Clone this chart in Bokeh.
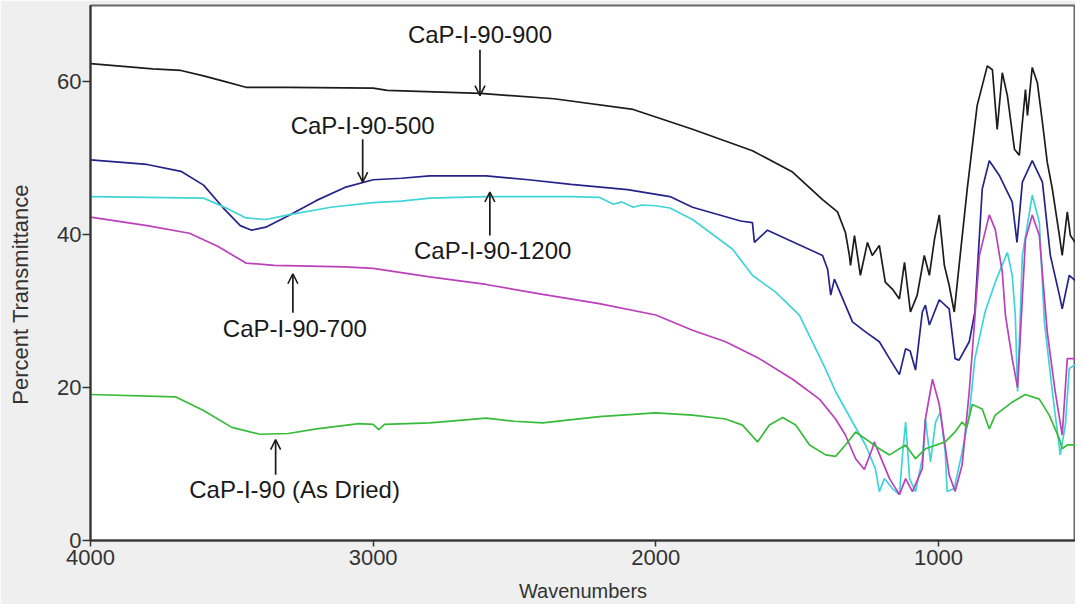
from bokeh.plotting import figure
from bokeh.models import Arrow, OpenHead, Label, Range1d, FixedTicker
from bokeh.embed import file_html
from bokeh.resources import INLINE

# ---- data (wavenumber, % transmittance) ----
wn_900 = [4000, 3780, 3680, 3600, 3520, 3450, 3300, 3000, 2950, 2620, 2360, 2080, 1870, 1658, 1516, 1410, 1357, 1329, 1315, 1311,
          1297, 1276, 1251, 1234, 1209, 1188, 1163, 1138, 1120, 1099, 1075, 1050, 1032, 1014, 997, 979, 962, 944, 923, 898,
          863, 827, 809, 792, 774, 756, 731, 714, 692, 685, 668, 650, 632, 615, 597, 572, 562, 544, 533, 516]
t_900 = [62.4, 61.7, 61.5, 60.8, 60.0, 59.3, 59.3, 59.2, 58.9, 58.5, 57.8, 56.4, 53.8, 51.0, 48.2, 44.6, 43.0, 40.3, 37.3, 36.0,
         39.9, 34.7, 39.0, 37.3, 38.6, 33.8, 32.9, 31.6, 36.4, 29.9, 32.1, 37.3, 34.7, 39.4, 42.6, 36.0, 33.4, 29.9, 37.3, 46.0,
         56.9, 62.1, 61.6, 53.8, 61.2, 58.2, 51.2, 50.4, 59.0, 55.6, 61.9, 59.9, 54.7, 49.5, 46.0, 39.9, 37.3, 43.0, 39.9, 39.0]

wn_500 = [4000, 3800, 3680, 3600, 3530, 3470, 3430, 3380, 3300, 3200, 3100, 3000, 2900, 2800, 2600, 2450, 2300, 2100, 1950, 1870,
          1700, 1658, 1651, 1605, 1410, 1392, 1381, 1368, 1304, 1258, 1209, 1173, 1138, 1116, 1100, 1081, 1057, 1046, 1032,
          997, 962, 941, 927, 891, 871, 845, 820, 785, 739, 722, 703, 668, 632, 604, 572, 562, 537, 516]
t_500 = [49.8, 49.2, 48.3, 46.5, 43.5, 41.2, 40.6, 41.0, 42.5, 44.5, 46.2, 47.2, 47.4, 47.7, 47.7, 47.2, 46.6, 45.9, 45.0, 43.6,
         41.8, 41.6, 39.0, 40.6, 37.3, 35.5, 32.1, 34.2, 28.6, 27.3, 26.0, 23.8, 21.7, 25.1, 24.8, 22.3, 29.9, 30.8, 28.2,
         31.5, 30.3, 23.8, 23.6, 26.0, 29.9, 46.0, 49.7, 47.8, 44.3, 39.0, 46.9, 49.7, 46.9, 37.3, 32.1, 30.3, 34.7, 34.0]

wn_1200 = [4000, 3600, 3520, 3450, 3380, 3300, 3150, 3000, 2900, 2800, 2600, 2300, 2200, 2150, 2120, 2080, 2050, 2000, 1950,
           1870, 1728, 1658, 1576, 1551, 1492, 1400, 1364, 1304, 1258, 1223, 1209, 1191, 1163, 1138, 1127, 1116, 1102, 1081,
           1057, 1046, 1028, 1010, 993, 976, 969, 944, 916, 891, 871, 835, 799, 756, 739, 728, 720, 703, 668, 643, 625, 597,
           569, 551, 537, 516]
t_1200 = [45.0, 44.8, 43.5, 42.2, 42.0, 42.6, 43.6, 44.2, 44.4, 44.8, 45.0, 45.0, 44.9, 44.0, 44.3, 43.6, 43.9, 43.8, 43.5,
          42.0, 38.1, 34.7, 32.5, 31.6, 29.5, 22.5, 19.5, 15.5, 12.5, 9.4, 6.4, 8.1, 6.8, 6.0, 11.2, 15.5, 8.1, 6.4,
          10.7, 15.9, 10.3, 15.5, 16.8, 11.6, 6.4, 6.8, 11.6, 16.4, 23.8, 29.9, 33.8, 37.7, 34.7, 29.5, 19.5, 37.3, 45.2, 41.6,
          28.6, 19.5, 11.2, 15.1, 22.5, 23.0]

wn_700 = [4000, 3800, 3650, 3550, 3450, 3350, 3100, 3000, 2800, 2600, 2400, 2200, 2000, 1870, 1753, 1634, 1516, 1421, 1364,
          1329, 1293, 1262, 1234, 1227, 1173, 1138, 1116, 1092, 1057, 1046, 1021, 997, 962, 941, 916, 891, 873, 855, 820,
          799, 774, 763, 739, 720, 692, 668, 643, 615, 587, 562, 544, 516]
t_700 = [42.3, 41.2, 40.2, 38.5, 36.3, 36.0, 35.8, 35.6, 34.5, 33.5, 32.2, 31.0, 29.5, 27.5, 26.0, 23.8, 21.1, 18.5, 15.9,
         13.8, 10.7, 9.3, 12.0, 12.9, 8.1, 6.0, 8.1, 6.4, 9.4, 15.9, 21.1, 17.8, 8.6, 6.4, 9.9, 19.5, 28.2, 37.3, 42.6,
         40.7, 35.1, 29.5, 23.8, 20.0, 39.4, 42.6, 39.9, 27.3, 19.5, 13.8, 23.8, 23.8]

wn_dried = [4000, 3700, 3600, 3500, 3400, 3300, 3200, 3050, 3000, 2980, 2960, 2800, 2600, 2500, 2400, 2200, 2000, 1870, 1753,
            1693, 1640, 1598, 1551, 1505, 1456, 1399, 1364, 1329, 1293, 1258, 1209, 1173, 1116, 1081, 1046, 976, 941, 916,
            900, 880, 845, 820, 799, 739, 693, 643, 608, 572, 562, 544, 516]
t_dried = [19.1, 18.8, 17.0, 14.8, 13.9, 14.0, 14.6, 15.3, 15.2, 14.5, 15.2, 15.4, 16.0, 15.6, 15.4, 16.2, 16.7, 16.4, 15.9,
           15.1, 12.9, 15.1, 16.1, 15.1, 12.5, 11.2, 11.0, 12.5, 14.2, 13.3, 12.0, 11.2, 12.5, 10.7, 12.0, 12.9, 14.2, 15.5,
           14.8, 17.8, 17.2, 14.6, 16.4, 18.1, 19.1, 18.5, 16.4, 13.3, 12.0, 12.5, 12.5]

series_colors = ["#1c1c1c", "#25238a", "#40d4d8", "#bb40bb", "#38bb38"]

# annotations: text, label x, label y, arrow x, arrow y start, arrow y end
ann_text = ["CaP-I-90-900", "CaP-I-90-500", "CaP-I-90-1200", "CaP-I-90-700", "CaP-I-90 (As Dried)"]
ann_x = [2622, 3037, 2577, 3277, 3278]
ann_y = [66.2, 54.3, 38.0, 27.8, 6.7]
arr_x = [2622, 3037, 2587, 3284, 3345]
arr_y0 = [64.2, 52.5, 39.9, 29.8, 8.6]
arr_y1 = [58.2, 46.9, 45.6, 34.9, 13.2]

x_ticks = [4000, 3000, 2000, 1000]
y_ticks = [0, 20, 40, 60]

p = figure(width=1075, height=604, output_backend="svg", toolbar_location=None,
           x_range=Range1d(4000, 515), y_range=Range1d(0, 70),
           min_border_left=90, min_border_right=0, min_border_top=5, min_border_bottom=63)
p.background_fill_color = "white"
p.border_fill_color = "#efefef"
p.outline_line_color = "#666666"
p.outline_line_width = 2
p.grid.visible = False

for wn, t, c in zip([wn_900, wn_500, wn_1200, wn_700, wn_dried],
                    [t_900, t_500, t_1200, t_700, t_dried], series_colors):
    p.line(wn, t, line_color=c, line_width=1.7)

for txt, lx, ly, ax, ay0, ay1 in zip(ann_text, ann_x, ann_y, arr_x, arr_y0, arr_y1):
    p.add_layout(Label(x=lx, y=ly, text=txt, text_align="center", text_baseline="middle",
                       text_font="Liberation Sans", text_font_size="24px", text_color="#1a1a1a"))
    p.add_layout(Arrow(end=OpenHead(size=10, line_width=1.6, line_color="#1a1a1a"),
                       x_start=ax, y_start=ay0, x_end=ax, y_end=ay1,
                       line_width=1.7, line_color="#1a1a1a"))

for ax in (p.xaxis[0], p.yaxis[0]):
    ax.axis_line_color = "#333333"
    ax.axis_line_width = 2
    ax.major_tick_line_color = "#333333"
    ax.major_tick_line_width = 1.5
    ax.major_tick_in = 0
    ax.minor_tick_line_color = None
    ax.major_label_text_font = "Liberation Sans"
    ax.major_label_text_font_size = "22px"
    ax.major_label_text_color = "#333333"
    ax.axis_label_text_font = "Liberation Sans"
    ax.axis_label_text_font_style = "normal"
    ax.axis_label_text_color = "#333333"

p.xaxis.ticker = FixedTicker(ticks=x_ticks)
p.yaxis.ticker = FixedTicker(ticks=y_ticks)
p.xaxis.major_tick_out = 6
p.yaxis.major_tick_out = 8
p.xaxis.major_label_standoff = 3
p.yaxis.major_label_standoff = 1

p.xaxis.axis_label = "Wavenumbers"
p.xaxis.axis_label_text_font_size = "20px"
p.xaxis.axis_label_standoff = 12
# trailing no-break spaces shift the visible title down, as in the reference
p.yaxis.axis_label = "Percent Transmittance" + "\u00a0" * 7
p.yaxis.axis_label_text_font_size = "22px"
p.yaxis.axis_label_standoff = 21

open("out.html", "w").write(file_html(p, INLINE))
